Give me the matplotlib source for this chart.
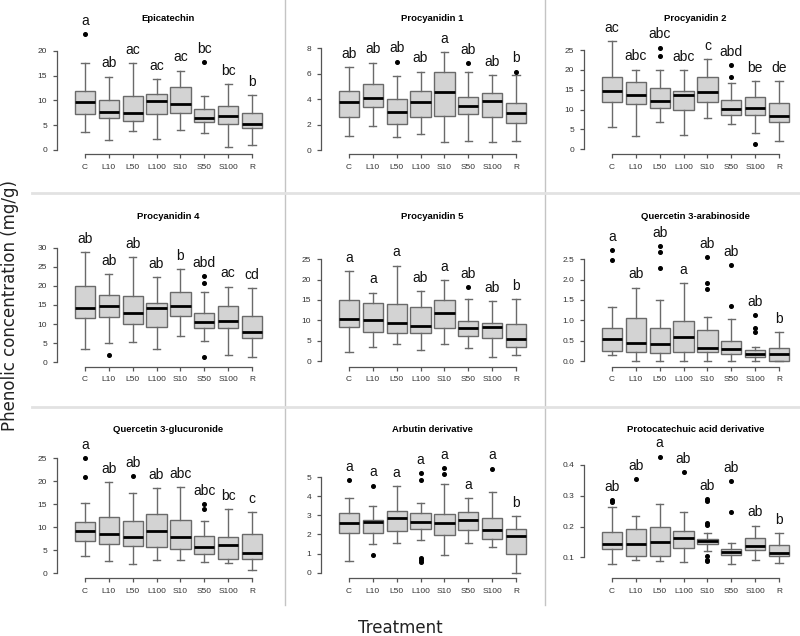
import matplotlib
matplotlib.use('Agg')
import matplotlib.pyplot as plt
from matplotlib.lines import Line2D

plt.rcParams['font.family'] = ['Liberation Sans', 'DejaVu Sans']

groups = ['C', 'L10', 'L50', 'L100', 'S10', 'S50', 'S100', 'R']

# five-number summaries per group: (whisker low, q1, median, q3, whisker high)
epicatechin = [(3.7, 7.2, 9.6, 11.8, 17.5), (2.0, 6.4, 7.6, 10.1, 14.8), (3.8, 5.9, 7.4, 10.9, 17.5),
               (2.2, 7.2, 9.9, 11.2, 14.3), (4.0, 7.4, 9.3, 12.8, 16.0), (3.4, 5.6, 6.5, 8.2, 10.8),
               (0.6, 5.2, 6.9, 8.9, 13.3), (1.0, 4.4, 5.2, 7.4, 11.1)]
epicatechin_out = [[23.4], [], [], [], [], [17.8], [], []]
epicatechin_let = ['a', 'ab', 'ac', 'ac', 'ac', 'bc', 'bc', 'b']

procyanidin1 = [(1.13, 2.57, 3.75, 4.67, 6.5), (1.92, 3.36, 4.07, 5.17, 6.88), (1.05, 2.02, 3.02, 3.99, 5.8),
                (1.23, 2.57, 3.75, 4.67, 6.17), (0.66, 2.68, 4.54, 6.17, 7.69), (0.73, 2.81, 3.46, 4.2, 6.17),
                (0.6, 2.62, 3.88, 4.51, 5.9), (0.71, 2.15, 2.94, 3.73, 5.9)]
procyanidin1_out = [[], [], [6.96], [], [], [6.82], [], [6.17]]
procyanidin1_let = ['ab', 'ab', 'ab', 'ab', 'a', 'ab', 'ab', 'b']

procyanidin2 = [(5.5, 12.0, 14.7, 18.1, 27.3), (3.4, 11.4, 13.8, 16.9, 20.1), (7.0, 10.3, 12.2, 15.4, 20.1),
                (3.6, 10.0, 13.7, 14.8, 19.9), (7.8, 12.0, 14.5, 18.1, 22.7), (6.4, 8.6, 10.1, 12.3, 16.8),
                (4.0, 8.6, 10.5, 13.1, 17.2), (2.1, 6.8, 8.5, 11.7, 17.2)]
procyanidin2_out = [[], [], [25.6, 23.6], [], [], [21.2, 18.1], [1.3], []]
procyanidin2_let = ['ac', 'abc', 'abc', 'abc', 'c', 'abd', 'be', 'de']

procyanidin4 = [(3.4, 11.5, 14.1, 20.0, 28.9), (5.1, 11.8, 14.6, 17.6, 23.1), (5.4, 10.0, 12.8, 17.4, 27.6),
                (3.5, 9.3, 14.2, 15.6, 22.2), (7.0, 12.2, 14.6, 18.5, 24.3), (5.7, 8.9, 10.6, 13.0, 18.5),
                (1.9, 8.9, 10.9, 14.6, 19.8), (1.3, 6.3, 8.0, 12.2, 19.5)]
procyanidin4_out = [[], [1.9], [], [], [], [22.6, 20.8, 1.3], [], []]
procyanidin4_let = ['ab', 'ab', 'ab', 'ab', 'b', 'abd', 'ac', 'cd']

procyanidin5 = [(2.3, 8.4, 10.3, 15.0, 22.1), (3.4, 7.2, 10.1, 14.2, 16.8), (4.1, 6.8, 9.3, 14.0, 23.4),
                (2.7, 6.8, 8.6, 13.2, 17.2), (4.1, 8.0, 11.7, 15.0, 19.9), (3.1, 6.1, 8.2, 9.9, 15.2),
                (1.1, 5.6, 8.3, 9.3, 14.8), (1.5, 3.5, 5.4, 9.0, 15.2)]
procyanidin5_out = [[], [], [], [], [], [18.1], [], []]
procyanidin5_let = ['a', 'a', 'a', 'ab', 'a', 'ab', 'ab', 'b']

q_arabinoside = [(0.15, 0.25, 0.53, 0.80, 1.32), (0.0, 0.23, 0.45, 1.05, 1.8), (0.0, 0.2, 0.42, 0.80, 1.5),
                 (0.0, 0.21, 0.58, 0.97, 1.92), (0.0, 0.21, 0.31, 0.75, 1.09), (0.0, 0.16, 0.29, 0.5, 1.02),
                 (0.0, 0.11, 0.18, 0.27, 0.35), (0.0, 0.0, 0.18, 0.31, 0.70)]
q_arabinoside_out = [[2.73, 2.48], [], [2.83, 2.67, 2.28], [], [2.56, 1.92, 1.76], [2.36, 1.35],
                     [1.13, 0.81, 0.72], []]
q_arabinoside_let = ['a', 'ab', 'ab', 'a', 'ab', 'ab', 'ab', 'b']

q_glucuronide = [(3.8, 7.1, 9.2, 11.2, 15.2), (2.7, 6.3, 8.5, 12.2, 19.8), (2.0, 5.9, 8.0, 11.4, 17.5),
                 (2.8, 5.8, 9.3, 12.8, 18.5), (2.9, 5.2, 7.8, 11.6, 18.8), (2.4, 4.3, 5.7, 8.1, 11.3),
                 (2.2, 3.1, 6.2, 7.8, 14.0), (0.7, 3.1, 4.5, 8.6, 13.3)]
q_glucuronide_out = [[25.0, 21.0], [], [21.2], [], [], [15.0, 13.9], [], []]
q_glucuronide_let = ['a', 'ab', 'ab', 'ab', 'abc', 'abc', 'bc', 'c']

arbutin = [(0.61, 2.06, 2.59, 3.11, 3.9), (1.5, 2.1, 2.65, 2.75, 3.51), (1.57, 2.17, 2.85, 3.22, 4.55),
           (1.72, 2.27, 2.65, 3.12, 3.65), (0.92, 1.97, 2.6, 3.06, 4.63), (1.55, 2.23, 2.77, 3.17, 3.9),
           (1.35, 1.78, 2.22, 2.85, 4.22), (0.0, 0.97, 1.9, 2.27, 2.96)]
arbutin_out = [[4.86], [4.56, 0.95], [], [5.2, 4.83, 0.77, 0.68, 0.58], [5.48, 5.18], [], [5.45], []]
arbutin_let = ['a', 'a', 'a', 'a', 'a', 'a', 'a', 'b']

protocatechuic = [(0.078, 0.127, 0.145, 0.182, 0.265), (0.091, 0.106, 0.145, 0.193, 0.235),
                  (0.088, 0.105, 0.149, 0.2, 0.274), (0.085, 0.129, 0.164, 0.185, 0.247),
                  (0.12, 0.142, 0.152, 0.161, 0.179), (0.078, 0.108, 0.116, 0.126, 0.148),
                  (0.09, 0.123, 0.138, 0.164, 0.203), (0.081, 0.103, 0.115, 0.139, 0.18)]
protocatechuic_out = [[0.287, 0.281], [0.355], [0.427], [0.378],
                      [0.288, 0.282, 0.212, 0.205, 0.105, 0.093, 0.088], [0.347, 0.246], [], []]
protocatechuic_let = ['ab', 'ab', 'a', 'ab', 'ab', 'ab', 'ab', 'b']

titles = ['Epicatechin', 'Procyanidin 1', 'Procyanidin 2', 'Procyanidin 4', 'Procyanidin 5',
          'Quercetin 3-arabinoside', 'Quercetin 3-glucuronide', 'Arbutin derivative',
          'Protocatechuic acid derivative']
summaries = [epicatechin, procyanidin1, procyanidin2, procyanidin4, procyanidin5,
             q_arabinoside, q_glucuronide, arbutin, protocatechuic]
outliers = [epicatechin_out, procyanidin1_out, procyanidin2_out, procyanidin4_out, procyanidin5_out,
            q_arabinoside_out, q_glucuronide_out, arbutin_out, protocatechuic_out]
letters = [epicatechin_let, procyanidin1_let, procyanidin2_let, procyanidin4_let, procyanidin5_let,
           q_arabinoside_let, q_glucuronide_let, arbutin_let, protocatechuic_let]
yticks = [[0, 5, 10, 15, 20], [0, 2, 4, 6, 8], [0, 5, 10, 15, 20, 25], [0, 5, 10, 15, 20, 25, 30],
          [0, 5, 10, 15, 20, 25], [0.0, 0.5, 1.0, 1.5, 2.0, 2.5], [0, 5, 10, 15, 20, 25],
          [0, 1, 2, 3, 4, 5], [0.1, 0.2, 0.3, 0.4]]
ytick_fmt = ['{:.0f}', '{:.0f}', '{:.0f}', '{:.0f}', '{:.0f}', '{:.1f}', '{:.0f}', '{:.0f}', '{:.1f}']
ylims = [(-0.81, 24.4), (-0.31, 9.52), (-1.18, 30.3), (-1.1, 35.4), (-1.35, 32.9),
         (-0.135, 3.29), (-1.02, 29.0), (-0.28, 6.95), (0.033, 0.481)]

W, H = 800, 636
fig = plt.figure(figsize=(W / 100, H / 100), dpi=100)

col_left = [57, 321, 584]
row_top = [29, 227, 440]
row_bottom = [154, 366.5, 578]
ax_w = 223
axis_col = '#555555'
box_edge = '#6a6a6a'

for k in range(9):
    r, c = divmod(k, 3)
    top, bot = row_top[r], row_bottom[r]
    ax = fig.add_axes([col_left[c] / W, 1 - bot / H, ax_w / W, (bot - top) / H])
    stats = []
    for g, (lo, q1, med, q3, hi) in enumerate(summaries[k]):
        stats.append(dict(whislo=lo, q1=q1, med=med, q3=q3, whishi=hi, fliers=outliers[k][g]))
    ax.bxp(stats, positions=range(1, 9), widths=0.85, capwidths=0.3, patch_artist=True,
           boxprops=dict(facecolor='#d3d3d3', edgecolor=box_edge, linewidth=1),
           whiskerprops=dict(color=box_edge, linewidth=1),
           capprops=dict(color=box_edge, linewidth=1),
           medianprops=dict(color='black', linewidth=2),
           flierprops=dict(marker='o', markerfacecolor='black', markeredgecolor='black',
                           markersize=2.6, linestyle='none'))
    for g, s in enumerate(stats):
        top_val = max([s['whishi']] + list(s['fliers']))
        ax.annotate(letters[k][g], xy=(g + 1, top_val), xytext=(0, 9.5), textcoords='offset points',
                    ha='center', va='center', fontsize=10, color='#111111', annotation_clip=False)
    ax.set_xlim(-0.17, 9.17)
    ax.set_ylim(*ylims[k])
    ax.set_xticks(range(1, 9))
    ax.set_xticklabels(groups)
    ax.set_yticks(yticks[k])
    ax.set_yticklabels([ytick_fmt[k].format(v) for v in yticks[k]])
    for side in ['top', 'right']:
        ax.spines[side].set_visible(False)
    ax.spines['left'].set_bounds(yticks[k][0], yticks[k][-1])
    ax.spines['bottom'].set_bounds(1, 8)
    for side in ['left', 'bottom']:
        ax.spines[side].set_color(axis_col)
        ax.spines[side].set_linewidth(0.9)
    ax.tick_params(direction='out', length=3, width=0.9, color=axis_col, labelsize=6,
                   labelcolor='#333333', pad=4)
    ax.patch.set_visible(False)
    ax.set_title(titles[k], fontsize=6.8, fontweight='bold', pad=5.5)

# panel separators
for x in [285, 545]:
    fig.add_artist(Line2D([x / W, x / W], [1 - 605 / H, 1], color='#c4c4c4', linewidth=1))
for y in [193, 407]:
    fig.add_artist(Line2D([32 / W, 1], [1 - y / H, 1 - y / H], color='#e2e2e2', linewidth=2))

fig.text(400 / W, 1 - 628 / H, 'Treatment', ha='center', va='center', fontsize=12,
         family='DejaVu Sans', color='#222222')
fig.text(10 / W, 1 - 305 / H, 'Phenolic concentration (mg/g)', ha='center', va='center',
         rotation=90, fontsize=12, family='DejaVu Sans', color='#222222')

fig.savefig('out.png', dpi=100)
